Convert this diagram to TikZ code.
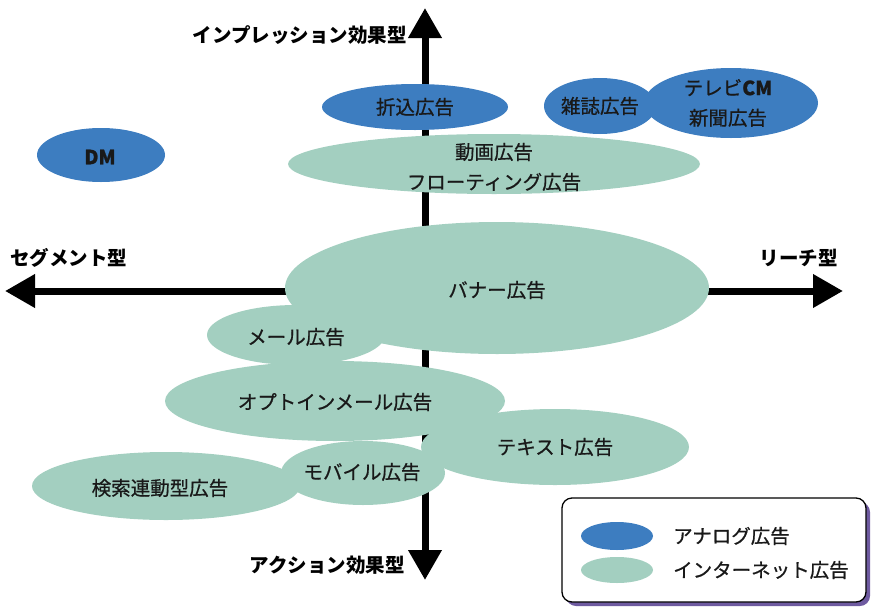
\documentclass[tikz,border=0pt]{standalone}
\usepackage{fontspec}
\setmainfont{Noto Sans CJK JP}
\newfontfamily\jpmed[FakeBold=0.7]{Noto Sans CJK JP}
\usetikzlibrary{arrows.meta}
\definecolor{analog}{RGB}{61,125,192}
\definecolor{inet}{RGB}{163,207,192}
\definecolor{shadowc}{RGB}{110,90,160}
\begin{document}
\begin{tikzpicture}[x=1pt,y=-1pt,
  axisline/.style={line width=7pt,{Triangle[width=32pt,length=30pt]}-{Triangle[width=32pt,length=30pt]}},
  axlabel/.style={font=\fontsize{19.5}{22}\selectfont\bfseries, inner sep=0pt},
  txt/.style={font=\jpmed\fontsize{19.5}{30}\selectfont, inner sep=0pt, align=center, text=black!90},
  blue/.style={fill=analog},
  teal/.style={fill=inet}]
\useasboundingbox (0,0) rectangle (871,611);
% axes
\coordinate (T) at (425,8);
\coordinate (B) at (425,580);
\coordinate (L) at (5,291);
\coordinate (R) at (843,291);
\draw[axisline] (B) -- (T);
\draw[axisline] (L) -- (R);
\node[axlabel, anchor=east] (lT) at (407,35) {インプレッション効果型};
\node[axlabel, anchor=west] (lL) at (10,258) {セグメント型};
\node[axlabel, anchor=east] (lR) at (838,258) {リーチ型};
\node[axlabel, anchor=east] (lB) at (405,565) {アクション効果型};
% analog blobs
\fill[blue] (101,155) ellipse [x radius=64, y radius=27];
\fill[blue] (415,107) ellipse [x radius=93, y radius=23];
\fill[blue] (600,106) ellipse [x radius=56, y radius=28];
\fill[blue] (731,103) ellipse [x radius=87, y radius=35];
% internet blobs
\fill[teal] (494,164) ellipse [x radius=206, y radius=30];
\fill[teal] (497,288) ellipse [x radius=212, y radius=66];
\fill[teal] (296,335) ellipse [x radius=89, y radius=30];
\fill[teal] (335,401) ellipse [x radius=170, y radius=40];
\fill[teal] (555,447) ellipse [x radius=134, y radius=38];
\fill[teal] (166,486) ellipse [x radius=134, y radius=34];
\fill[teal] (363,473) ellipse [x radius=82, y radius=32];
% texts
\node[txt] (dm) at (100,157) {\textbf{DM}};
\node[txt] (orikomi) at (415,107) {折込広告};
\node[txt] (zasshi) at (600,106) {雑誌広告};
\node[txt] (tv) at (728,103) {テレビ\textbf{CM}\\新聞広告};
\node[txt] (douga) at (494,167) {動画広告\\フローティング広告};
\node[txt] (banner) at (497,290) {バナー広告};
\node[txt] (mail) at (296,337) {メール広告};
\node[txt] (optin) at (335,402) {オプトインメール広告};
\node[txt] (text) at (555,447) {テキスト広告};
\node[txt] (mobile) at (362,472) {モバイル広告};
\node[txt] (search) at (160,488) {検索連動型広告};
% legend
\fill[shadowc, rounded corners=10pt] (566,502) rectangle (870,606);
\draw[line width=1.3pt, fill=white, rounded corners=10pt] (562,498) rectangle (866,602);
\fill[blue] (617,536) ellipse [x radius=36, y radius=14];
\fill[teal] (617,570) ellipse [x radius=36, y radius=13];
\node[txt, anchor=west] (lg1) at (673,536) {アナログ広告};
\node[txt, anchor=west] (lg2) at (673,570) {インターネット広告};
\end{tikzpicture}
\end{document}
